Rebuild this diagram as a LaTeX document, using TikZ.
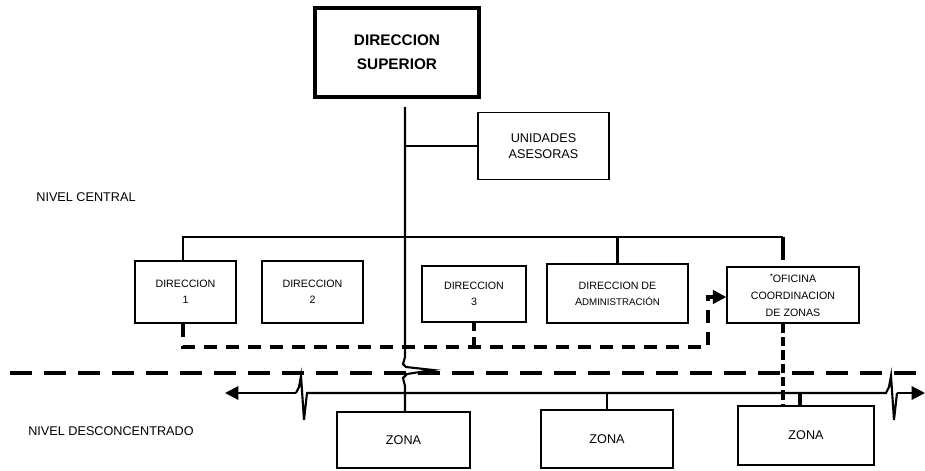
\documentclass[tikz,border=0pt]{standalone}
\usepackage{fontspec}
\setmainfont{Liberation Sans}
\usetikzlibrary{arrows.meta}

\begin{document}
\begin{tikzpicture}[x=0.75pt,y=0.75pt,yscale=-1,xscale=1,
  caja/.style={draw,line width=1.1pt,inner sep=0pt,align=center,font=\fontsize{8}{12}\selectfont},
  tronco/.style={line width=1.6pt},
  guiones/.style={line width=2.4pt,dash pattern=on 10pt off 6.5pt},
  corte/.style={line width=2.4pt,dash pattern=on 16.5pt off 9pt},
  punta/.style={-{Triangle[length=10pt,width=10pt]}}]
\useasboundingbox (0,0) rectangle (925,471);

%Shape: Rectangle
\node[caja,line width=2.4pt,minimum width=123pt,minimum height=66.75pt,font=\fontsize{11.5}{18}\bfseries] (dirsup) at (397,52.5) {DIRECCION\\SUPERIOR};
%Shape: Rectangle
\node[caja,minimum width=98.25pt,minimum height=50.25pt,font=\fontsize{9.5}{12}\selectfont] (unid) at (543.5,146) {UNIDADES\\ASESORAS};

%Shape: Rectangle
\node[caja,minimum width=75.75pt,minimum height=46.5pt] (dir1) at (185.5,292) {DIRECCION\\1};
%Shape: Rectangle
\node[caja,minimum width=75.75pt,minimum height=46.5pt] (dir2) at (312.5,292) {DIRECCION\\2};
%Shape: Rectangle
\node[caja,minimum width=78pt,minimum height=42pt] (dir3) at (474,294) {DIRECCION\\3};
%Shape: Rectangle
\node[caja,minimum width=105.75pt,minimum height=44.25pt] (diradm) at (617.5,293.5) {DIRECCION DE\\A{\fontsize{7.3}{12}\selectfont DMINISTRACIÓN}};
%Shape: Rectangle
\node[caja,minimum width=99pt,minimum height=42pt,font=\fontsize{8}{12.75}\selectfont] (ofic) at (793,295) {\raisebox{2pt}{\fontsize{6}{6}\selectfont*}OFICINA\\COORDINACION\\DE ZONAS};

%Shape: Rectangle
\node[caja,minimum width=99.75pt,minimum height=42pt,font=\fontsize{9.5}{12}\selectfont] (zona1) at (403.5,440) {ZONA};
%Shape: Rectangle
\node[caja,minimum width=99pt,minimum height=43.5pt,font=\fontsize{9.5}{12}\selectfont] (zona2) at (607,439) {ZONA};
%Shape: Rectangle
\node[caja,minimum width=102pt,minimum height=44.25pt,font=\fontsize{9.5}{12}\selectfont] (zona3) at (806,435.5) {ZONA};

% Text Node
\node[font=\fontsize{9.5}{12}\selectfont] (nivc) at (86,197) {NIVEL CENTRAL};
% Text Node
\node[font=\fontsize{9.5}{12}\selectfont] (nivd) at (111,431) {NIVEL DESCONCENTRADO};

\coordinate (tr) at (405,107);
\coordinate (bar) at (183,237);
\coordinate (barr) at (783,237);
\coordinate (eje) at (225,393);
\coordinate (ejer) at (925,393);

%Straight Lines
\draw[tronco] (tr) -- (405,357) -- (403,364) -- (406,367) -- (433,370) -- (407,374) -- (403,378) -- (405,386) -- (zona1.north -| tr);
\draw[tronco] (unid.west) -- (unid.west -| tr);

%Straight Lines
\draw[tronco] (dir1.north -| bar) -- (bar) -- (barr);
\draw[line width=2.4pt] (barr) -- ++(0,23);
\draw[line width=2.4pt] (diradm.north) -- (diradm.north |- bar);

%Straight Lines
\draw[guiones] (dir1.south -| bar) -- (183,347) -- (708,347) -- (708,297) -- (714,297);
\draw[line width=2.4pt,punta] (713,297) -- (ofic.west |- 0,297);
\draw[line width=2.4pt,dash pattern=on 6pt off 5pt] (dir3.south) -- (dir3.south |- 0,347);
\draw[line width=2.4pt,dash pattern=on 7pt off 3pt] (ofic.south -| barr) -- (zona3.north -| barr);

%Straight Lines
\draw[corte] (10,373) -- (925,373);

%Straight Lines
\draw[tronco,punta] (296,393) -- (eje);
\draw[tronco] (296,393) -- (299,387) -- (301,376) -- (304,420) -- (307,393) -- (886,393) -- (889,387) -- (891,376) -- (894,420) -- (897,393);
\draw[tronco,punta] (897,393) -- (ejer);

%Straight Lines
\draw[tronco] (zona2.north) -- (zona2.north |- eje);
\draw[line width=2.4pt] (800,406) -- (800,393);

\end{tikzpicture}
\end{document}
